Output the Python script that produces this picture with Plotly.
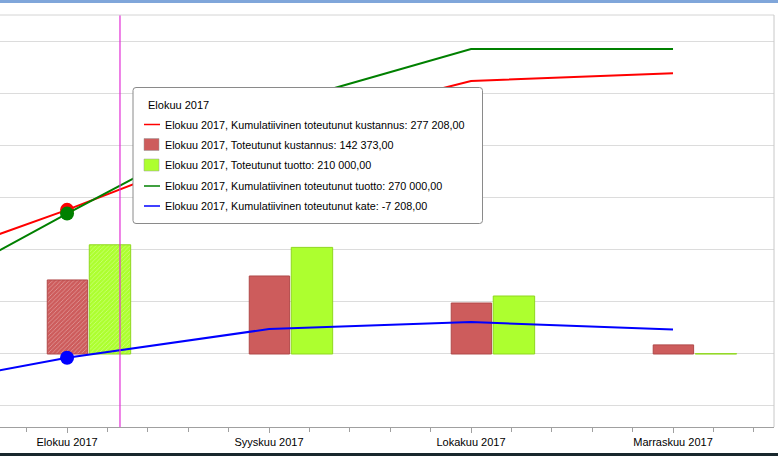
import plotly.graph_objects as go

# kuukaudet (Heinäkuu jää näkymän vasemmalle puolelle)
months = ['Heinäkuu 2017', 'Elokuu 2017', 'Syyskuu 2017', 'Lokakuu 2017', 'Marraskuu 2017']
month_idx = [0, 1, 2, 3, 4]

# toteutunut kustannus / tuotto per kuukausi
cost = [138000, 142373, 150000, 98000, 17500]
income = [58000, 210000, 205000, 111500, 600]

# kumulatiiviset sarjat
cum_cost = [138000, 277208, 427208, 525000, 540000]
cum_income = [58000, 270000, 475500, 586500, 586500]
cum_margin = [-80000, -7208, 48000, 61500, 47000]

# valittu kuukausi (korostus)
selected = 1
hatch = ['/' if i == selected else '' for i in month_idx]
dot = [14 if i == selected else 0 for i in month_idx]

tooltip_title = 'Elokuu 2017'
tooltip_rows = [
    ('line', 'red', 'Elokuu 2017, Kumulatiivinen toteutunut kustannus: 277 208,00'),
    ('box', '#cd5c5c', 'Elokuu 2017, Toteutunut kustannus: 142 373,00'),
    ('box', '#adff2f', 'Elokuu 2017, Toteutunut tuotto: 210 000,00'),
    ('line', 'green', 'Elokuu 2017, Kumulatiivinen toteutunut tuotto: 270 000,00'),
    ('line', 'blue', 'Elokuu 2017, Kumulatiivinen toteutunut kate: -7 208,00'),
]

W, H = 778, 456
ML, MR, MT, MB = 0, 4, 15, 29
PW, PH = W - ML - MR, H - MT - MB


def px(x):
    return (x - ML) / PW


def py(y):
    return (H - MB - y) / PH


fig = go.Figure()

# pylväät hieman kuukauden kohdasta oikealle, kuten alkuperäisessä
fig.add_trace(go.Bar(x=month_idx, y=cost, name='Toteutunut kustannus', width=0.2, offset=-0.098,
                     marker=dict(color='#cd5c5c', line=dict(color='#b04848', width=1),
                                 pattern=dict(shape=hatch, fillmode='overlay', fgcolor='white',
                                              fgopacity=0.4, size=3, solidity=0.25))))
fig.add_trace(go.Bar(x=month_idx, y=income, name='Toteutunut tuotto', width=0.205, offset=0.11,
                     marker=dict(color='#adff2f', line=dict(color='#8fd81e', width=1),
                                 pattern=dict(shape=hatch, fillmode='overlay', fgcolor='white',
                                              fgopacity=0.4, size=3, solidity=0.25))))

fig.add_trace(go.Scatter(x=month_idx, y=cum_cost, mode='lines+markers', name='Kumulatiivinen toteutunut kustannus',
                         line=dict(color='red', width=2),
                         marker=dict(size=dot, color='red', opacity=1, line=dict(width=0))))
fig.add_trace(go.Scatter(x=month_idx, y=cum_income, mode='lines+markers', name='Kumulatiivinen toteutunut tuotto',
                         line=dict(color='green', width=2),
                         marker=dict(size=dot, color='green', opacity=1, line=dict(width=0))))
fig.add_trace(go.Scatter(x=month_idx, y=cum_margin, mode='lines+markers', name='Kumulatiivinen toteutunut kate',
                         line=dict(color='blue', width=2),
                         marker=dict(size=dot, color='blue', opacity=1, line=dict(width=0))))

shapes = []
# kursori
shapes.append(dict(type='line', xref='x', yref='paper', x0=1.262, x1=1.262, y0=0, y1=1,
                   line=dict(color='#e22ed6', width=1.2)))
# kehys ylä- ja oikealla
shapes.append(dict(type='line', xref='paper', yref='paper', x0=0, x1=1, y0=1, y1=1,
                   line=dict(color='#d4d4d4', width=1)))
shapes.append(dict(type='line', xref='paper', yref='paper', x0=1, x1=1, y0=0, y1=1,
                   line=dict(color='#c8c8c8', width=1)))
# ikkunan reunat
shapes.append(dict(type='rect', xref='paper', yref='paper', x0=px(0), x1=px(W), y0=py(3), y1=py(0),
                   fillcolor='#80a6da', line=dict(width=0)))
shapes.append(dict(type='rect', xref='paper', yref='paper', x0=px(0), x1=px(W), y0=py(456), y1=py(453),
                   fillcolor='#18272d', line=dict(width=0)))

# tooltip-laatikko
x0, x1, y0, y1 = px(133), px(482.5), py(223.5), py(87.5)
rx, ry = 3 / PW, 3 / PH
path = (f'M {x0 + rx},{y1} L {x1 - rx},{y1} Q {x1},{y1} {x1},{y1 - ry} '
        f'L {x1},{y0 + ry} Q {x1},{y0} {x1 - rx},{y0} L {x0 + rx},{y0} '
        f'Q {x0},{y0} {x0},{y0 + ry} L {x0},{y1 - ry} Q {x0},{y1} {x0 + rx},{y1} Z')
shapes.append(dict(type='path', xref='paper', yref='paper', path=path, fillcolor='white',
                   line=dict(color='#8a8a8a', width=1), layer='above'))

annotations = [dict(xref='paper', yref='paper', x=px(146), y=py(105), text=tooltip_title,
                    showarrow=False, xanchor='left', yanchor='middle',
                    font=dict(family='Liberation Sans', size=11, color='black'))]
row_y = [124.5, 144.5, 165, 186, 206]
for (kind, col, txt), yy in zip(tooltip_rows, row_y):
    if kind == 'line':
        shapes.append(dict(type='line', xref='paper', yref='paper', x0=px(144), x1=px(160),
                           y0=py(yy), y1=py(yy), line=dict(color=col, width=1.5), layer='above'))
    else:
        shapes.append(dict(type='rect', xref='paper', yref='paper', x0=px(144), x1=px(159),
                           y0=py(yy + 6), y1=py(yy - 6), fillcolor=col,
                           line=dict(color='#999999', width=0.5), layer='above'))
    annotations.append(dict(xref='paper', yref='paper', x=px(162.5), y=py(yy), text=txt,
                            showarrow=False, xanchor='left', yanchor='middle',
                            font=dict(family='Liberation Sans', size=10.8, color='black')))

fig.update_layout(
    width=W, height=H,
    margin=dict(l=ML, r=MR, t=MT, b=MB),
    paper_bgcolor='white', plot_bgcolor='white',
    showlegend=False,
    hovermode=False,
    barmode='overlay',
    xaxis=dict(range=[0.668, 4.5], tickvals=month_idx, ticktext=months,
               showgrid=False, zeroline=False, showline=True, linecolor='#a0a0a0',
               ticks='outside', ticklen=5, tickcolor='#a0a0a0',
               minor=dict(dtick=0.2, tick0=0, ticks='outside', ticklen=4, tickcolor='#a0a0a0', showgrid=False),
               tickfont=dict(family='Liberation Sans', size=11, color='black')),
    yaxis=dict(range=[-140400, 651900], dtick=100000, tick0=0, showticklabels=False,
               gridcolor='#dcdcdc', zeroline=False, showline=False),
    shapes=shapes,
    annotations=annotations,
)

# sivun oletusmarginaali pois, jotta kuva täyttää ikkunan
fig.write_html('out.html', config={'displayModeBar': False},
               post_script="document.body.style.margin='0';")
